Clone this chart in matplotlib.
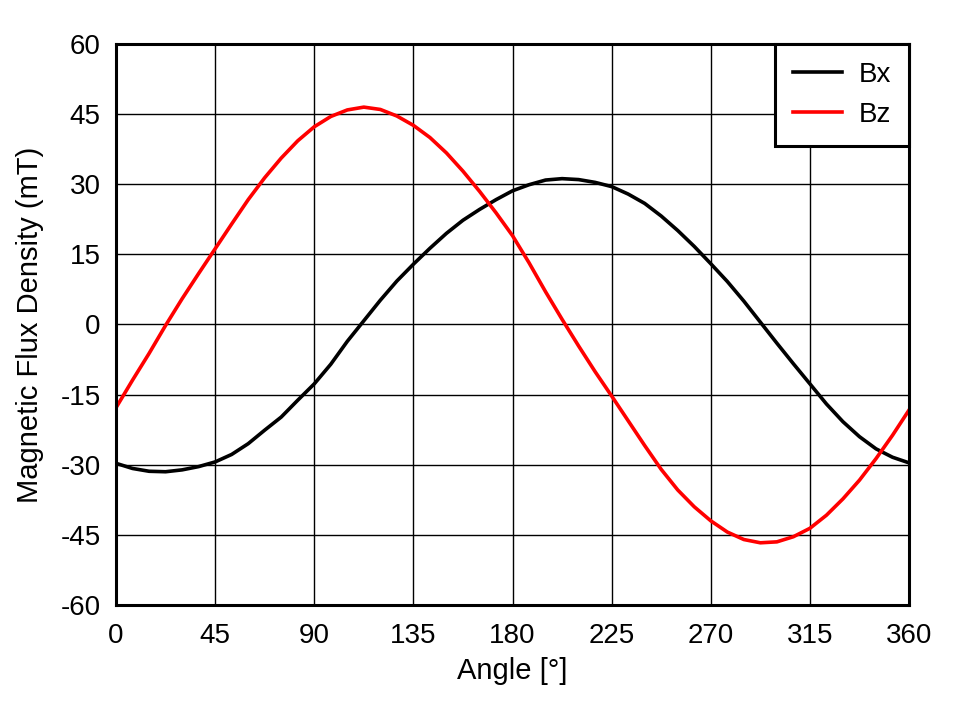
import matplotlib
matplotlib.use("Agg")
import matplotlib.pyplot as plt

plt.rcParams["font.family"] = ["Liberation Sans", "DejaVu Sans"]

# values, every 7.5 degrees
angle = [0, 7.5, 15, 22.5, 30, 37.5, 45, 52.5, 60, 67.5, 75, 82.5, 90,
         97.5, 105, 112.5, 120, 127.5, 135, 142.5, 150, 157.5, 165, 172.5, 180,
         187.5, 195, 202.5, 210, 217.5, 225, 232.5, 240, 247.5, 255, 262.5, 270,
         277.5, 285, 292.5, 300, 307.5, 315, 322.5, 330, 337.5, 345, 352.5, 360]
bx = [-29.7, -30.8, -31.4, -31.5, -31.1, -30.4, -29.4, -27.8, -25.5, -22.6, -19.8, -16.2, -12.7,
      -8.5, -3.6, 0.8, 5.2, 9.3, 12.9, 16.3, 19.5, 22.3, 24.6, 26.7, 28.6,
      29.9, 30.9, 31.2, 31.0, 30.4, 29.5, 27.9, 25.9, 23.2, 20.1, 16.7, 13.0,
      9.2, 5.0, 0.5, -4.0, -8.4, -12.7, -17.0, -20.8, -24.0, -26.6, -28.4, -29.6]
bz = [-17.8, -11.9, -6.2, -0.2, 5.5, 10.9, 16.2, 21.5, 26.7, 31.4, 35.6, 39.3, 42.3,
      44.5, 45.9, 46.5, 46.0, 44.6, 42.6, 40.0, 36.7, 32.8, 28.5, 23.9, 19.0,
      13.2, 7.0, 1.1, -4.6, -10.1, -15.3, -20.6, -25.9, -31.0, -35.4, -39.0, -42.0,
      -44.4, -46.0, -46.7, -46.5, -45.4, -43.6, -40.8, -37.3, -33.3, -28.7, -23.7, -18.3]

x_ticks = [0, 45, 90, 135, 180, 225, 270, 315, 360]
y_ticks = [-60, -45, -30, -15, 0, 15, 30, 45, 60]

fig = plt.figure(figsize=(9.58, 7.01), dpi=100)
ax = fig.add_axes([0.1211, 0.137, 0.8278, 0.8002])

ax.plot(angle, bx, color="black", lw=2.6, label="Bx", solid_joinstyle="round")
ax.plot(angle, bz, color="red", lw=2.6, label="Bz", solid_joinstyle="round")

ax.set_xlim(0, 360)
ax.set_ylim(-60, 60)
ax.set_xticks(x_ticks)
ax.set_yticks(y_ticks)
ax.set_yticklabels([str(v) for v in y_ticks])
ax.grid(True, color="black", lw=1.0)
ax.set_axisbelow(True)
ax.tick_params(length=0, labelsize=20)
ax.tick_params(axis="x", pad=13)
ax.tick_params(axis="y", pad=11)
for s in ax.spines.values():
    s.set_linewidth(2.2)

ax.set_xlabel("Angle [°]", fontsize=21, labelpad=6)
ax.set_ylabel("Magnetic Flux Density (mT)", fontsize=21, labelpad=12)

leg = ax.legend(loc="upper right", fontsize=20, fancybox=False, framealpha=1,
                edgecolor="black", borderaxespad=0, handlelength=1.75,
                handletextpad=0.6, borderpad=0.65, labelspacing=0.5)
leg.get_frame().set_linewidth(2.2)

fig.savefig("out.png", dpi=100)
